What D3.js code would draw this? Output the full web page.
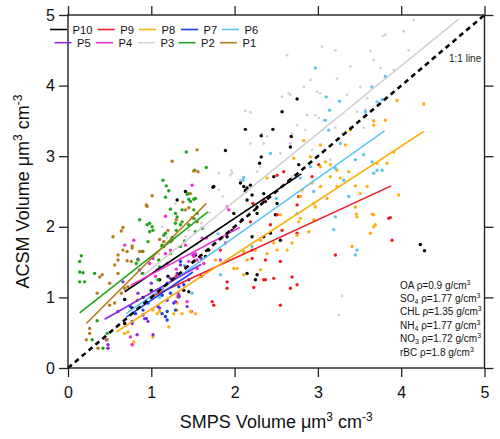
<!DOCTYPE html>
<html><head><meta charset="utf-8">
<script src="https://cdn.jsdelivr.net/npm/d3@7/dist/d3.min.js"></script>
<style>
html,body{margin:0;padding:0;background:#fff;}
svg{display:block;font-family:"Liberation Sans",Arial,Helvetica,sans-serif;}
</style></head>
<body><svg id="chart" width="500" height="439"></svg>
<script>
// ---------- DATA ----------
const seriesNames = ["P10","P9","P8","P7","P6","P5","P4","P3","P2","P1"];
const seriesColors = ["#000000","#ee1c24","#fbb017","#1c3fe6","#5cc6f2","#8b2be2","#f030d2","#d2d2d2","#1ea51e","#b17b1e"];
const xTicks = [0,1,2,3,4,5];
const yTicks = [0,1,2,3,4,5];

const p10 = [[2.75,3.81],[2.57,3.63],[2.13,3.38],[2.46,3.38],[2.32,3.29],[2.68,3.28],[2.67,3.13],[2.32,2.99],[2.30,2.90],[2.77,2.88],[2.47,2.71],[2.65,2.64],[2.07,2.62],[2.11,2.57],[2.15,2.55],[2.19,2.59],[2.13,2.50],[2.21,2.45],[2.35,2.47],[2.51,2.33],[2.27,2.19],[2.49,2.17],[2.37,2.36],[1.75,2.57],[2.13,2.52],[2.15,2.38],[2.27,2.28],[1.99,2.19],[2.09,2.10],[1.97,1.95],[1.91,1.86],[2.21,1.86],[1.69,1.67],[1.65,1.58],[1.53,1.60],[1.89,3.08],[1.74,2.56],[1.41,2.50],[1.31,2.38],[2.25,1.25],[2.27,1.32],[1.39,1.10],[1.45,1.08],[2.15,1.34],[2.43,1.91],[2.35,1.86],[2.55,1.81],[4.28,1.66],[4.23,1.75],[0.68,0.97],[0.77,0.85],[0.68,0.63],[1.00,1.10],[1.10,1.25],[1.20,1.30],[0.90,1.00]];
const p9 = [[3.87,2.13],[3.89,1.81],[3.21,1.60],[2.55,1.51],[2.69,1.29],[2.75,1.18],[2.67,1.13],[2.47,1.27],[2.37,1.25],[2.23,1.14],[2.21,1.55],[2.37,1.53],[2.55,0.89],[2.57,1.95],[2.75,1.91],[3.01,2.88],[2.93,2.71],[2.59,2.78],[2.51,2.73],[2.77,2.43],[2.75,2.31],[2.22,2.33],[2.51,2.17],[2.43,2.03],[3.85,2.12],[2.19,2.07],[1.91,1.22],[1.91,1.13],[1.73,0.94],[1.75,0.89],[1.48,0.80],[2.35,1.25],[1.83,1.67],[2.21,1.67],[2.35,2.38],[1.30,1.30],[1.60,1.30]];
const p8 = [[3.95,3.79],[4.27,3.74],[3.67,3.50],[3.67,3.44],[3.81,3.51],[3.39,3.37],[3.33,3.16],[2.83,3.22],[3.03,3.16],[2.71,2.97],[2.91,2.99],[3.09,2.92],[3.15,2.88],[3.03,2.85],[3.23,2.80],[3.37,2.78],[3.15,2.71],[3.27,2.69],[3.23,2.57],[3.45,2.58],[3.59,2.57],[3.51,2.47],[3.91,3.06],[3.71,2.90],[3.83,2.90],[3.97,2.45],[3.67,2.17],[3.47,2.14],[3.45,2.28],[3.03,2.57],[2.93,2.62],[2.81,2.52],[2.95,2.33],[2.79,2.43],[3.11,2.40],[2.39,2.69],[2.77,2.07],[3.67,2.00],[2.55,2.17],[3.69,2.03],[3.63,1.91],[3.65,2.18],[3.41,1.72],[3.46,2.18],[2.79,2.12],[2.75,1.88],[2.69,1.77],[2.63,1.67],[2.51,1.67],[2.47,1.77],[2.39,1.62],[2.31,1.81],[2.25,1.67],[2.11,1.62],[2.31,1.39],[2.03,1.41],[2.95,2.10],[2.97,2.28],[2.89,1.93],[2.11,1.65],[2.15,1.53],[1.99,1.41],[2.11,1.32],[1.77,1.53],[1.31,0.92],[1.53,0.77],[1.02,0.44],[0.79,0.37],[0.72,0.51],[0.68,0.49],[1.21,0.58],[1.02,0.82],[1.07,0.77],[1.31,0.82],[1.37,0.77],[1.10,0.80],[1.27,0.77],[1.47,0.80],[1.31,1.01],[0.77,0.33]];
const p7 = [[1.08,0.87],[1.13,0.77],[1.17,0.73],[1.19,0.68],[1.19,0.80],[1.27,0.92],[1.29,0.82],[1.23,1.06],[1.13,1.03],[1.33,1.01],[0.94,0.70],[0.77,0.66],[0.90,0.82],[1.33,1.15],[1.39,1.18],[0.96,0.92],[0.75,0.87],[0.81,0.77],[1.35,1.51],[1.45,1.25],[1.00,1.00]];
const p6 = [[2.97,4.25],[3.10,3.84],[3.26,3.78],[3.14,3.65],[3.09,3.51],[3.57,3.63],[3.81,4.13],[3.65,3.98],[3.71,3.77],[3.77,3.80],[3.39,3.40],[3.13,3.37],[3.27,3.18],[3.55,3.02],[3.45,2.95],[3.65,2.92],[3.71,2.80],[3.77,2.80],[3.67,2.76],[2.91,2.85],[2.79,2.69],[3.21,2.83],[3.31,2.66],[3.37,2.43],[2.95,2.50],[2.43,3.04],[2.10,2.66],[3.19,1.96],[3.21,2.14],[3.47,1.67],[3.45,1.60],[2.21,1.72],[2.75,2.19],[2.11,2.70],[1.83,1.32],[1.49,1.06],[1.80,1.90],[2.50,2.40],[1.40,1.45],[1.10,1.00]];
const p5 = [[0.84,1.54],[0.66,1.22],[0.90,0.75],[0.92,0.70],[0.77,0.63],[0.48,0.28],[0.46,0.40],[0.83,0.47],[1.02,0.47],[0.96,0.66],[1.10,0.85],[1.19,0.96],[1.29,0.94],[1.33,1.03],[1.13,1.13],[1.23,1.27],[0.84,1.06],[1.31,1.34],[1.35,1.46],[1.41,1.43],[1.43,0.87],[1.33,1.01],[0.86,1.39],[1.07,1.39],[1.19,1.20],[0.48,0.33],[0.60,0.80],[1.50,1.60],[1.60,1.55],[1.00,1.20]];
const p4 = [[1.17,2.15],[0.79,1.81],[0.68,1.74],[1.93,2.24],[1.91,2.28],[1.17,1.62],[1.23,1.67],[1.49,2.59],[1.89,1.77],[1.61,1.84],[1.41,1.74],[1.53,1.62],[1.83,1.53],[1.55,1.53],[0.89,1.34],[0.98,1.48],[1.02,1.55],[1.19,1.48],[1.63,1.48],[1.66,1.84],[1.51,1.51],[0.77,0.33],[0.75,0.44],[1.51,1.58],[1.45,1.51],[1.55,1.41],[1.43,0.94],[1.32,1.06],[1.30,1.40],[1.05,1.30]];
const p3 = [[4.15,4.93],[4.03,4.77],[3.81,4.72],[4.09,4.50],[3.05,4.55],[3.21,4.50],[2.63,4.43],[3.63,4.49],[3.67,4.36],[3.75,4.25],[3.39,4.27],[3.91,4.22],[2.83,3.98],[2.91,4.08],[3.23,4.10],[2.65,3.89],[2.57,3.84],[2.99,3.91],[3.03,3.89],[3.35,3.87],[3.51,3.98],[3.59,3.82],[2.13,3.64],[2.19,3.62],[2.87,3.58],[2.97,3.58],[3.01,3.54],[3.47,3.63],[2.75,3.44],[3.21,3.40],[3.55,3.40],[2.33,3.32],[2.69,3.32],[3.78,4.70],[2.67,3.87],[2.85,3.37],[3.07,3.51],[2.67,3.18],[2.39,3.28],[2.35,3.18],[2.55,3.04],[2.93,3.09],[3.15,2.95],[3.29,3.32],[3.57,3.66],[1.97,2.76],[2.31,2.85],[2.69,2.71],[2.27,2.78],[2.07,2.66],[1.95,2.73],[1.81,2.52],[1.53,2.10],[1.41,1.86],[2.13,2.24],[1.29,2.33],[1.13,2.00],[1.19,1.84],[1.33,1.72],[1.09,1.62],[2.19,3.18],[1.81,2.76],[1.96,2.80],[1.86,2.43],[1.23,2.26],[3.29,1.02],[3.25,0.75],[1.45,1.95],[1.60,2.05],[1.70,2.20],[1.35,1.55],[1.55,1.75]];
const p2 = [[1.42,3.06],[1.66,2.84],[1.52,2.80],[1.14,2.66],[1.18,2.58],[1.21,2.51],[1.43,2.46],[1.51,2.39],[1.45,2.39],[1.53,2.40],[1.17,2.42],[1.23,2.25],[1.29,2.19],[1.31,2.14],[0.86,2.10],[0.95,2.03],[1.01,2.00],[1.29,2.05],[1.45,2.03],[1.51,2.24],[1.55,2.19],[1.15,1.88],[1.23,1.79],[1.35,1.72],[0.96,1.79],[0.98,1.93],[1.15,1.72],[0.98,2.05],[1.02,1.95],[1.37,2.07],[1.17,1.91],[0.90,1.65],[1.13,1.72],[1.09,1.53],[0.84,1.53],[0.82,1.48],[0.14,1.51],[0.16,1.59],[0.14,1.36],[0.18,1.35],[0.20,1.22],[0.14,1.22],[0.32,1.34],[0.35,0.67],[0.29,0.40],[0.42,0.28],[0.47,0.49],[0.90,1.34],[1.08,1.25],[1.10,1.43],[1.13,1.74],[1.23,1.62],[1.45,2.47],[1.47,2.36],[1.37,2.24],[1.51,2.12],[1.35,2.03],[1.53,1.93],[1.61,1.98],[1.25,1.85],[1.40,1.80],[1.30,1.95]];
const p1 = [[1.55,3.09],[1.25,2.93],[1.51,2.79],[1.56,2.78],[1.01,2.44],[0.95,2.29],[1.47,2.47],[1.41,2.24],[1.45,2.27],[0.66,1.99],[0.64,1.94],[0.54,1.86],[0.77,1.73],[1.10,1.82],[1.49,2.13],[1.55,2.07],[0.94,2.31],[0.66,1.67],[0.60,1.60],[0.60,1.53],[0.71,1.52],[0.76,1.51],[0.89,1.65],[1.25,1.81],[1.15,1.79],[0.41,1.32],[0.50,1.20],[0.56,1.46],[0.35,1.06],[0.26,0.56],[0.26,0.49],[0.22,0.40],[0.47,0.40],[0.83,0.96],[0.71,1.65],[0.77,1.70],[0.86,1.65],[0.68,1.13],[0.50,0.89],[0.38,1.29],[0.36,0.28],[0.60,1.34],[0.64,1.06],[0.56,0.92],[0.72,1.15],[1.30,2.10],[1.38,2.35],[1.20,1.95]];

// regression line end points per series [[x0,y0],[x1,y1]]
const fitP10 = [[0.68,1.08],[2.80,2.75]];
const fitP9  = [[1.00,1.01],[3.88,2.58]];
const fitP8  = [[0.58,0.51],[4.27,3.35]];
const fitP7  = [[0.70,0.72],[1.50,1.36]];
const fitP6  = [[0.70,0.77],[3.80,3.36]];
const fitP5  = [[0.44,0.69],[1.60,1.47]];
const fitP4  = [[0.75,1.17],[2.06,1.99]];
const fitP3  = [[0.90,1.31],[4.69,4.94]];
const fitP2  = [[0.14,0.78],[1.68,2.21]];
const fitP1  = [[0.22,0.63],[1.66,2.33]];
const oneToOne = [[0,0],[5,5]];

const densityLines = ["OA|ρ=0.9 g/cm|3|", "SO|ρ=1.77 g/cm|3|4", "CHL|ρ=1.35 g/cm|3|", "NH|ρ=1.77 g/cm|3|4", "NO|ρ=1.72 g/cm|3|3", "rBC|ρ=1.8 g/cm|3|"];

const seriesPoints = [p10,p9,p8,p7,p6,p5,p4,p3,p2,p1];
const seriesFits = [fitP10,fitP9,fitP8,fitP7,fitP6,fitP5,fitP4,fitP3,fitP2,fitP1];

// ---------- CHART ----------
const svg = d3.select("#chart");
const L = 68, R = 484.5, T = 15, B = 368;
const x = d3.scaleLinear().domain([0,5]).range([L,R]);
const y = d3.scaleLinear().domain([0,5]).range([B,T]);

// points (gray P3 underneath)
const order = [7,0,1,2,3,4,5,6,8,9];
const gPts = svg.append("g");
order.forEach(i => {
  gPts.append("g").selectAll("circle").data(seriesPoints[i]).join("circle")
    .attr("cx", d => x(d[0])).attr("cy", d => y(d[1]))
    .attr("r", i === 7 ? 1.4 : 1.7)
    .attr("fill", seriesColors[i]);
});

// fit lines
const line = d3.line().x(d => x(d[0])).y(d => y(d[1]));
order.forEach(i => {
  svg.append("path").attr("d", line(seriesFits[i]))
    .attr("fill","none").attr("stroke", seriesColors[i]).attr("stroke-width", 1.6);
});

// 1:1 line
svg.append("path").attr("d", line(oneToOne))
  .attr("fill","none").attr("stroke","#000").attr("stroke-width",2.6)
  .attr("stroke-dasharray","5,4");
svg.append("text").attr("x", 449).attr("y", 62).attr("font-size", 10).attr("fill","#222").text("1:1 line");

// axes
const axStyle = g => {
  g.selectAll(".domain").remove();
  g.selectAll(".tick line").attr("stroke","#222").attr("stroke-width",1.3);
  g.selectAll(".tick text").attr("fill","#111").attr("font-size",16)
   .attr("font-family",'"Liberation Sans",Arial,Helvetica,sans-serif');
};
svg.append("g").attr("transform",`translate(0,${B})`)
  .call(d3.axisBottom(x).tickValues(xTicks).tickFormat(d3.format("d")).tickSizeInner(9).tickSizeOuter(0).tickPadding(10))
  .call(axStyle);
svg.append("g").attr("transform",`translate(0,${T})`)
  .call(d3.axisTop(x).tickValues(xTicks).tickFormat("").tickSizeInner(9).tickSizeOuter(0))
  .call(axStyle);
svg.append("g").attr("transform",`translate(${L},0)`)
  .call(d3.axisLeft(y).tickValues(yTicks).tickFormat(d3.format("d")).tickSizeInner(9).tickSizeOuter(0).tickPadding(4))
  .call(axStyle);
svg.append("g").attr("transform",`translate(${R},0)`)
  .call(d3.axisRight(y).tickValues(yTicks).tickFormat("").tickSizeInner(9).tickSizeOuter(0))
  .call(axStyle);
svg.append("rect").attr("x",L).attr("y",T).attr("width",R-L).attr("height",B-T)
  .attr("fill","none").attr("stroke","#222").attr("stroke-width",1.4);

// axis titles
const xt = svg.append("text").attr("x",(L+R)/2).attr("y",428).attr("text-anchor","middle")
  .attr("font-size",18).attr("fill","#111");
xt.append("tspan").text("SMPS Volume μm");
xt.append("tspan").attr("dy",-7).attr("font-size",12).text("3");
xt.append("tspan").attr("dy",7).text(" cm");
xt.append("tspan").attr("dy",-7).attr("font-size",12).text("-3");

const yt = svg.append("text").attr("transform",`translate(29,${(T+B)/2}) rotate(-90)`)
  .attr("text-anchor","middle").attr("font-size",18).attr("fill","#111");
yt.append("tspan").text("ACSM Volume μm");
yt.append("tspan").attr("dy",-7).attr("font-size",12).text("3");
yt.append("tspan").attr("dy",7).text(" cm");
yt.append("tspan").attr("dy",-7).attr("font-size",12).text("-3");

// legend (two rows)
const legRows = [{y:29.5, xs:[50,97.7,139,181,222], idx:[0,1,2,3,4]},
                 {y:42.7, xs:[54.5,96,138,178.5,220], idx:[5,6,7,8,9]}];
legRows.forEach(row => {
  row.idx.forEach((si, k) => {
    const lx = row.xs[k];
    svg.append("line").attr("x1",lx).attr("x2",lx+17).attr("y1",row.y).attr("y2",row.y)
      .attr("stroke",seriesColors[si]).attr("stroke-width",1.6);
    svg.append("text").attr("x",lx+22.5).attr("y",row.y+4).attr("font-size",11.2).attr("fill","#111")
      .text(seriesNames[si]);
  });
});

// density annotation
densityLines.forEach((s, k) => {
  const [name, mid, sup, sub] = s.split("|");
  const t = svg.append("text").attr("x",400).attr("y",288.5 + k*13.4).attr("font-size",10).attr("fill","#111");
  t.append("tspan").text(name);
  if (sub) { t.append("tspan").attr("dy",2).attr("font-size",7).text(sub); t.append("tspan").attr("dy",-2).text(" " + mid); }
  else t.append("tspan").text(" " + mid);
  t.append("tspan").attr("dy",-4).attr("font-size",7).text(sup);
});
</script></body></html>
